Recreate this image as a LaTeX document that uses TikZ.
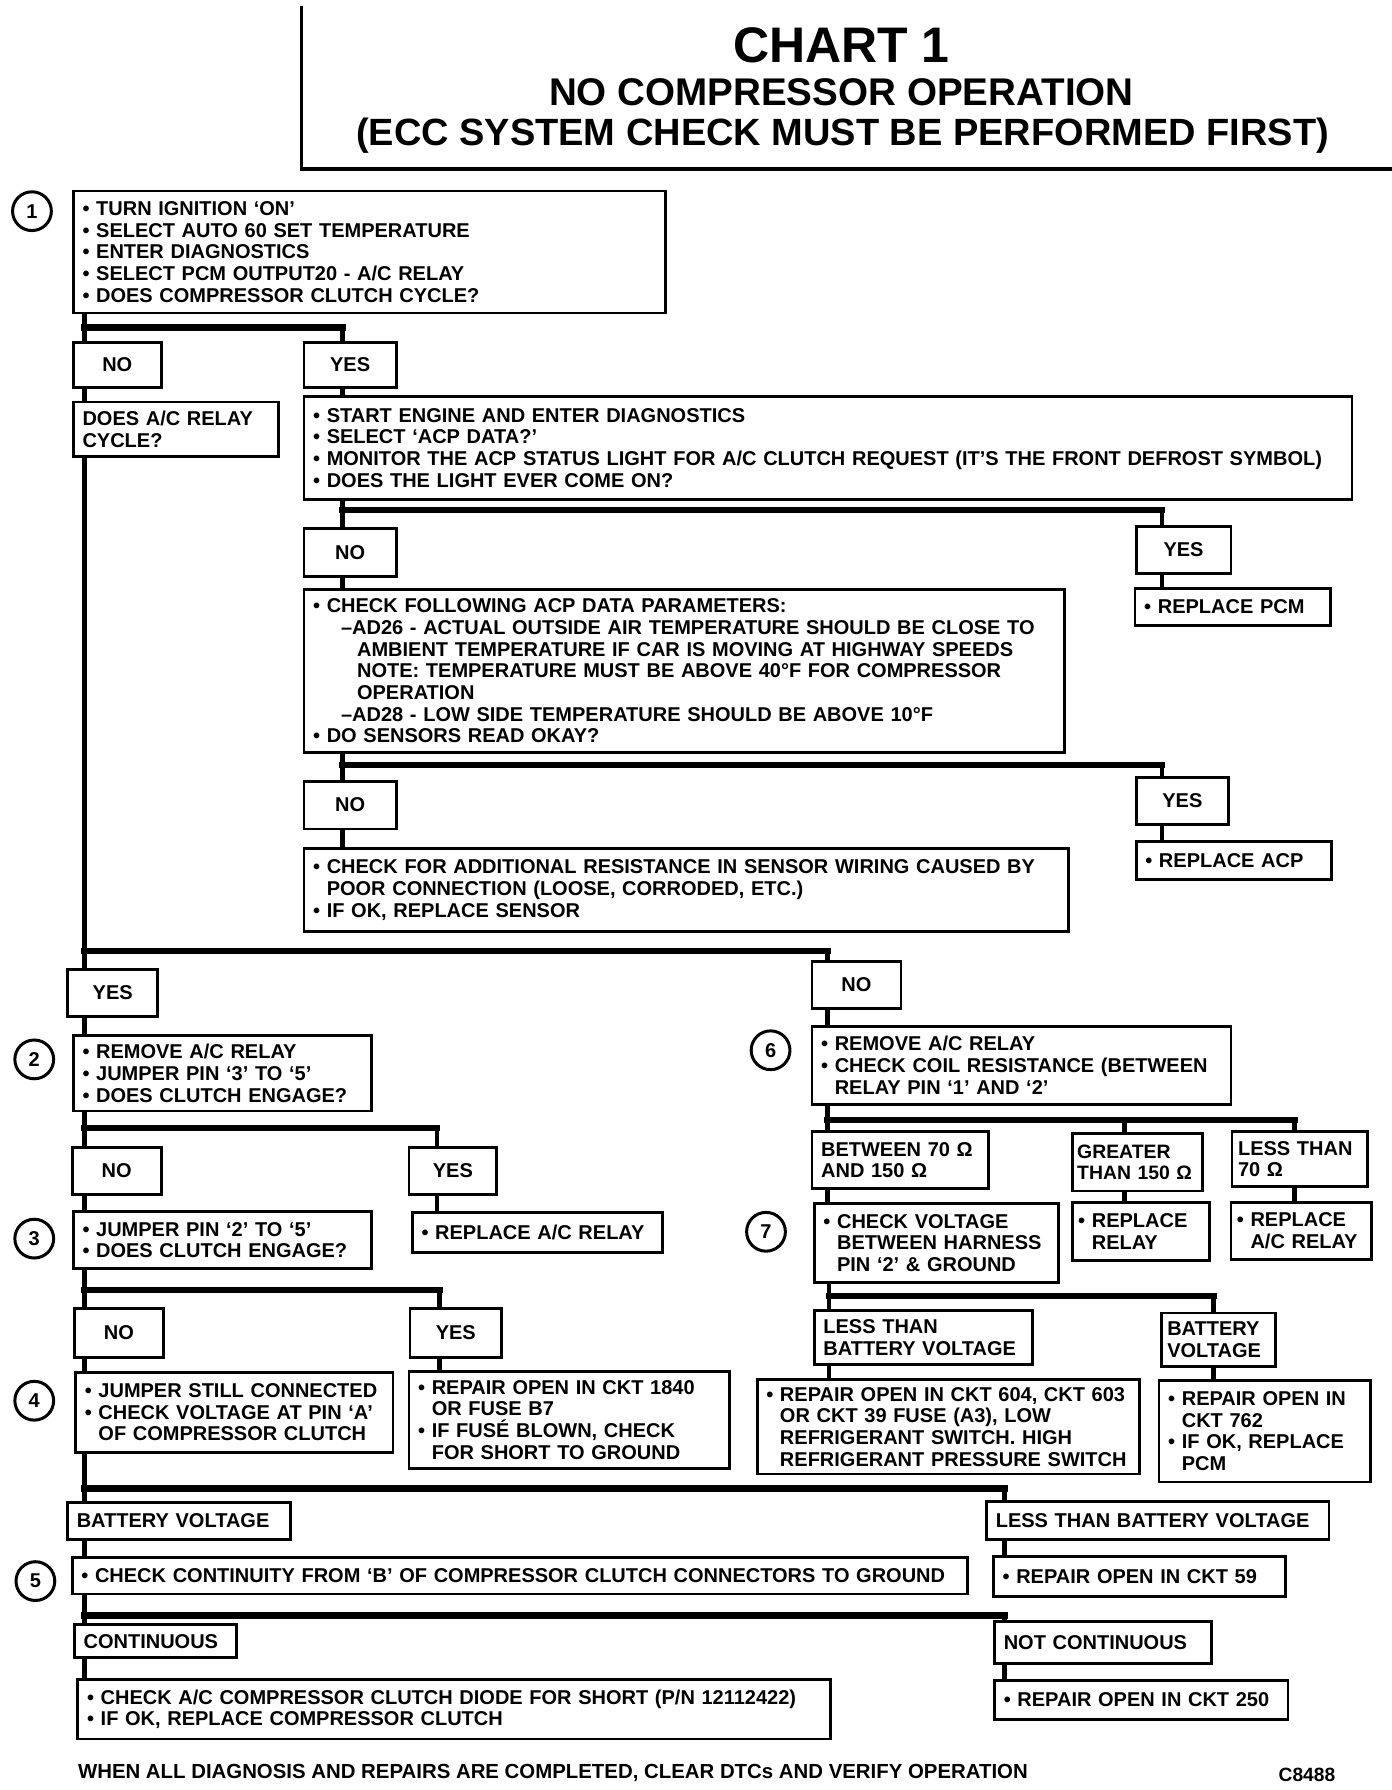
\documentclass[tikz,border=0pt]{standalone}
\usepackage{fontspec}
\setmainfont{Liberation Sans}
\usetikzlibrary{positioning,calc}
\newcommand{\blt}{•\ }
\newcommand{\hng}{\hphantom{•\ }}
\tikzset{
  box/.style={draw,line width=1.4pt,anchor=north west,align=left,inner xsep=4.6pt,inner ysep=2pt,
    font=\bfseries\fontsize{10}{10.85}\selectfont},
  lab/.style={box,align=center},
  sz/.code 2 args={\pgfmathsetlengthmacro\boxw{#1*0.571pt-2*(\pgfkeysvalueof{/pgf/inner xsep})}%
    \pgfmathsetlengthmacro\boxh{#2*0.571pt}%
    \edef\szset{\noexpand\pgfkeysalso{text width=\boxw,minimum height=\boxh}}\szset},
  circ/.style={draw,circle,line width=1.5pt,minimum size=19.4pt,inner sep=0pt,
    font=\bfseries\fontsize{10}{10}\selectfont},
  wire/.style={line width=2.2pt},
  bar/.style={line width=3.2pt,line cap=rect},
  rule/.style={line width=1.7pt}
}
\begin{document}
\begin{tikzpicture}[x=0.571pt,y=-0.571pt]
\useasboundingbox (0,0) rectangle (1219,1568);
% heading
\draw[rule] (264,5) -- (264,148) -- (1219,148);
\node[font=\bfseries\fontsize{25}{25}\selectfont] (t1) at (737,40) {CHART 1};
\node[font=\bfseries\fontsize{19.3}{20}\selectfont] (t2) at (737,81) {NO COMPRESSOR OPERATION};
\node[font=\bfseries\fontsize{19}{20}\selectfont] (t3) at (738,119) {(ECC SYSTEM CHECK MUST BE PERFORMED FIRST)};

% step 1
\node[circ] (s1) at (28,185) {1};
\node[box,sz={519}{107}] (b1) at (63,166) {\blt TURN IGNITION `ON'\\ \blt SELECT AUTO 60 SET TEMPERATURE\\ \blt ENTER DIAGNOSTICS\\ \blt SELECT PCM OUTPUT20 - A/C RELAY\\ \blt DOES COMPRESSOR CLUTCH CYCLE?};
\node[lab,sz={77}{39}] (n1) at (63,299) {NO};
\node[lab,sz={81}{39}] (y1) at (265,299) {YES};
\node[box,sz={180}{48}] (q1) at (63,351) {DOES A/C RELAY\\ CYCLE?};
\node[box,sz={918}{90}] (a1) at (265,346) {\blt START ENGINE AND ENTER DIAGNOSTICS\\ \blt SELECT `ACP DATA?'\\ \blt MONITOR THE ACP STATUS LIGHT FOR A/C CLUTCH REQUEST (IT'S THE FRONT DEFROST SYMBOL)\\ \blt DOES THE LIGHT EVER COME ON?};
\node[lab,sz={81}{42}] (n2) at (265,462) {NO};
\node[lab,sz={83}{41}] (y2) at (994,460) {YES};
\node[box,sz={171}{33}] (r2) at (993,514) {\blt REPLACE PCM};
\node[box,sz={666}{143}] (p1) at (265,515) {\blt CHECK FOLLOWING ACP DATA PARAMETERS:\\ \hspace*{14pt}--AD26 - ACTUAL OUTSIDE AIR TEMPERATURE SHOULD BE CLOSE TO\\ \hspace*{22pt}AMBIENT TEMPERATURE IF CAR IS MOVING AT HIGHWAY SPEEDS\\ \hspace*{22pt}NOTE: TEMPERATURE MUST BE ABOVE 40°F FOR COMPRESSOR\\ \hspace*{22pt}OPERATION\\ \hspace*{14pt}--AD28 - LOW SIDE TEMPERATURE SHOULD BE ABOVE 10°F\\ \blt DO SENSORS READ OKAY?};
\node[lab,sz={81}{42}] (n3) at (265,683) {NO};
\node[lab,sz={81}{41}] (y3) at (994,680) {YES};
\node[box,sz={171}{33}] (r3) at (994,736) {\blt REPLACE ACP};
\node[box,sz={670}{73}] (d1) at (265,742) {\blt CHECK FOR ADDITIONAL RESISTANCE IN SENSOR WIRING CAUSED BY\\ \hng POOR CONNECTION (LOOSE, CORRODED, ETC.)\\ \blt IF OK, REPLACE SENSOR};

% relay cycles
\node[lab,sz={79}{41}] (v1) at (58,848) {YES};
\node[lab,sz={78}{41}] (n7) at (710,841) {NO};

% steps 2 to 4
\node[circ] (s2) at (30,928) {2};
\node[box,sz={261}{66}] (b2) at (63,906) {\blt REMOVE A/C RELAY\\ \blt JUMPER PIN `3' TO `5'\\ \blt DOES CLUTCH ENGAGE?};
\node[lab,sz={78}{41}] (n4) at (62,1004) {NO};
\node[lab,sz={77}{41}] (y4) at (357,1004) {YES};
\node[box,sz={219}{35}] (r4) at (360,1061) {\blt REPLACE A/C RELAY};
\node[circ] (s3) at (30,1085) {3};
\node[box,sz={261}{50}] (b3) at (63,1060) {\blt JUMPER PIN `2' TO `5'\\ \blt DOES CLUTCH ENGAGE?};
\node[lab,sz={78}{43}] (n5) at (64,1145) {NO};
\node[lab,sz={80}{43}] (y5) at (358,1145) {YES};
\node[circ] (s4) at (30,1227) {4};
\node[box,sz={278}{70}] (b4) at (65,1201) {\blt JUMPER STILL CONNECTED\\ \blt CHECK VOLTAGE AT PIN `A'\\ \hng OF COMPRESSOR CLUTCH};
\node[box,sz={281}{85}] (r5) at (357,1200) {\blt REPAIR OPEN IN CKT 1840\\ \hng OR FUSE B7\\ \blt IF FUSÉ BLOWN, CHECK\\ \hng FOR SHORT TO GROUND};

% step 5
\node[box,sz={195}{32}] (bv) at (58,1315) {BATTERY VOLTAGE};
\node[box,sz={300}{33}] (lv) at (863,1314) {LESS THAN BATTERY VOLTAGE};
\node[circ] (s5) at (31,1385) {5};
\node[box,sz={784}{32}] (b5) at (62,1363) {\blt CHECK CONTINUITY FROM `B' OF COMPRESSOR CLUTCH CONNECTORS TO GROUND};
\node[box,sz={256}{35}] (r6) at (869,1362) {\blt REPAIR OPEN IN CKT 59};
\node[box,sz={142}{29}] (ct) at (64,1422) {CONTINUOUS};
\node[box,sz={190}{37}] (nc) at (870,1419) {NOT CONTINUOUS};
\node[box,sz={659}{52}] (b6) at (67,1470) {\blt CHECK A/C COMPRESSOR CLUTCH DIODE FOR SHORT (P/N 12112422)\\ \blt IF OK, REPLACE COMPRESSOR CLUTCH};
\node[box,sz={257}{34}] (r8) at (870,1471) {\blt REPAIR OPEN IN CKT 250};

% steps 6 and 7
\node[circ] (s6) at (675,920) {6};
\node[box,sz={367}{68}] (b7) at (710,898) {\blt REMOVE A/C RELAY\\ \blt CHECK COIL RESISTANCE (BETWEEN\\ \hng RELAY PIN `1' AND `2'};
\node[box,sz={155}{50}] (g1) at (710,990) {BETWEEN 70 Ω\\ AND 150 Ω};
\node[box,inner xsep=2.5pt,sz={114}{50},font=\bfseries\fontsize{9.7}{10.85}\selectfont] (g2) at (938,992) {GREATER\\ THAN 150~Ω};
\node[box,inner xsep=3pt,sz={119}{48}] (g3) at (1078,990) {LESS THAN\\ 70 Ω};
\node[box,inner xsep=3pt,sz={120}{51}] (r9) at (938,1052) {\blt REPLACE\\ \hng RELAY};
\node[box,inner xsep=3pt,sz={123}{50}] (r10) at (1077,1052) {\blt REPLACE\\ \hng A/C RELAY};
\node[circ] (s7) at (671,1079) {7};
\node[box,sz={214}{69}] (b8) at (712,1053) {\blt CHECK VOLTAGE\\ \hng BETWEEN HARNESS\\ \hng PIN `2' \& GROUND};
\node[box,sz={191}{47}] (h1) at (712,1147) {LESS THAN\\ BATTERY VOLTAGE};
\node[box,inner xsep=3pt,sz={100}{47}] (h2) at (1016,1149) {BATTERY\\ VOLTAGE};
\node[box,sz={335}{83}] (r11) at (662,1207) {\blt REPAIR OPEN IN CKT 604, CKT 603\\ \hng OR CKT 39 FUSE (A3), LOW\\ \hng REFRIGERANT SWITCH. HIGH\\ \hng REFRIGERANT PRESSURE SWITCH};
\node[box,sz={185}{89}] (r12) at (1014,1208) {\blt REPAIR OPEN IN\\ \hng CKT 762\\ \blt IF OK, REPLACE\\ \hng PCM};

% footer
\node[anchor=west,inner sep=0pt,font=\bfseries\fontsize{10.2}{11}\selectfont] (ft) at (68,1553) {WHEN ALL DIAGNOSIS AND REPAIRS ARE COMPLETED, CLEAR DTCs AND VERIFY OPERATION};
\node[anchor=east,inner sep=0pt,font=\bfseries\fontsize{9.6}{10}\selectfont] (fc) at (1170,1555) {C8488};

% step 1 branches
\coordinate (j1) at (74,287);
\coordinate (k1) at (300,287);
\draw[wire] (b1.south -| j1) -- (n1.north -| j1);
\draw[bar] (j1) -- (k1);
\draw[wire] (k1) -- (y1.north -| k1);
\draw[wire] (n1.south -| j1) -- (q1.north -| j1);
\draw[wire] (y1.south -| k1) -- (a1.north -| k1);
% light check
\coordinate (j2) at (300,447);
\coordinate (k2) at (1018,447);
\draw[wire] (a1.south -| j2) -- (n2.north -| j2);
\draw[bar] (j2) -- (k2);
\draw[wire] (k2) -- (y2.north -| k2);
\draw[wire] (y2.south -| k2) -- (r2.north -| k2);
\draw[wire] (n2.south -| j2) -- (p1.north -| j2);
% sensor check
\coordinate (j3) at (300,670);
\coordinate (k3) at (1018,670);
\draw[wire] (p1.south -| j3) -- (n3.north -| j3);
\draw[bar] (j3) -- (k3);
\draw[wire] (k3) -- (y3.north -| k3);
\draw[wire] (y3.south -| k3) -- (r3.north -| k3);
\draw[wire] (n3.south -| j3) -- (d1.north -| j3);
% relay cycle
\coordinate (j7) at (74,833);
\coordinate (k7) at (725,833);
\draw[wire] (q1.south -| j1) -- (v1.north -| j1);
\draw[bar] (j7) -- (k7);
\draw[wire] (k7) -- (n7.north -| k7);
\draw[wire] (v1.south -| j1) -- (b2.north -| j1);
\draw[wire] (n7.south -| k7) -- (b7.north -| k7);
% step 2
\coordinate (j4) at (74,988);
\coordinate (k4) at (383,988);
\draw[wire] (b2.south -| j1) -- (n4.north -| j1);
\draw[bar] (j4) -- (k4);
\draw[wire] (k4) -- (y4.north -| k4);
\draw[wire] (y4.south -| k4) -- (r4.north -| k4);
\draw[wire] (n4.south -| j1) -- (b3.north -| j1);
% step 3
\coordinate (j5) at (74,1130);
\coordinate (k5) at (385,1130);
\draw[wire] (b3.south -| j1) -- (n5.north -| j1);
\draw[bar] (j5) -- (k5);
\draw[wire] (k5) -- (y5.north -| k5);
\draw[wire] (y5.south -| k5) -- (r5.north -| k5);
\draw[wire] (n5.south -| j1) -- (b4.north -| j1);
% step 4
\coordinate (j6) at (74,1304);
\coordinate (k6) at (880,1304);
\draw[wire] (b4.south -| j1) -- (bv.north -| j1);
\draw[bar] (j6) -- (k6);
\draw[wire] (k6) -- (lv.north -| k6);
\draw[wire] (lv.south -| k6) -- (r6.north -| k6);
\draw[wire] (bv.south -| j1) -- (b5.north -| j1);
% step 5
\coordinate (j8) at (74,1415);
\coordinate (k8) at (880,1415);
\draw[wire] (b5.south -| j1) -- (ct.north -| j1);
\draw[bar] (j8) -- (k8);
\draw[wire] (k8) -- (nc.north -| k8);
\draw[wire] (nc.south -| k8) -- (r8.north -| k8);
\draw[wire] (ct.south -| j1) -- (b6.north -| j1);
% step 6
\coordinate (j9) at (725,981);
\coordinate (k9) at (985,981);
\coordinate (m9) at (1134,981);
\draw[wire] (b7.south -| j9) -- (g1.north -| j9);
\draw[bar] (j9) -- (m9);
\draw[wire] (k9) -- (g2.north -| k9);
\draw[wire] (m9) -- (g3.north -| m9);
\draw[wire] (g2.south -| k9) -- (r9.north -| k9);
\draw[wire] (g3.south -| m9) -- (r10.north -| m9);
\draw[wire] (g1.south -| j9) -- (b8.north -| j9);
% step 7
\coordinate (j10) at (726,1135);
\coordinate (k10) at (1063,1135);
\draw[wire] (b8.south -| j10) -- (h1.north -| j10);
\draw[bar] (j10) -- (k10);
\draw[wire] (k10) -- (h2.north -| k10);
\draw[wire] (h2.south -| k10) -- (r12.north -| k10);
\draw[wire] (h1.south -| j10) -- (r11.north -| j10);
\end{tikzpicture}
\end{document}
